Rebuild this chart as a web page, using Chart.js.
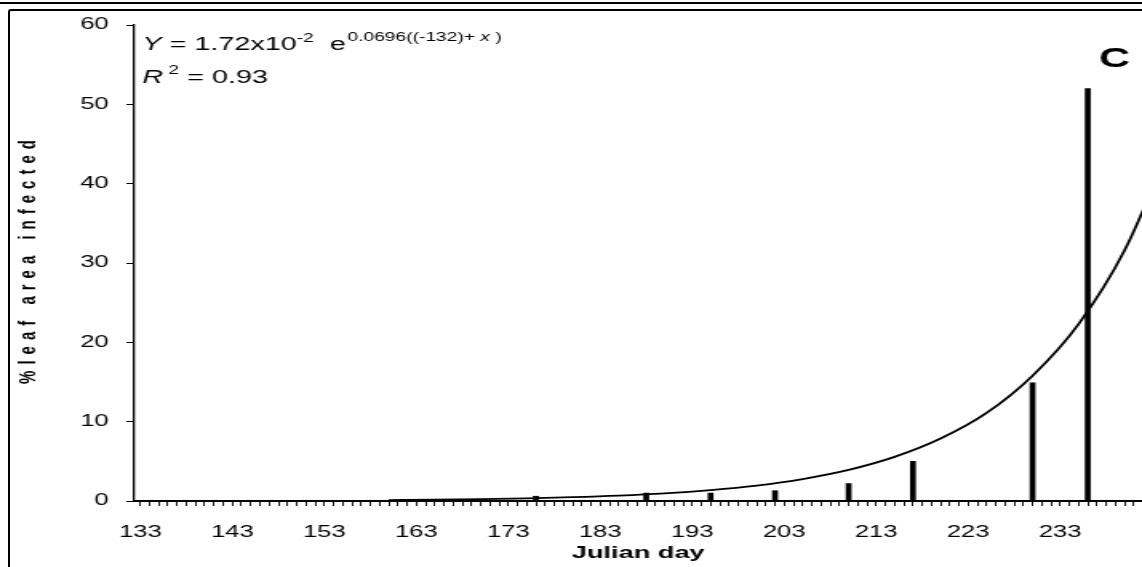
<!DOCTYPE html>
<html>
<head>
<meta charset="utf-8">
<title>% leaf area infected vs Julian day</title>
<script src="https://cdn.jsdelivr.net/npm/chart.js@4.4.1/dist/chart.umd.min.js"></script>
<style>
  html, body { margin: 0; padding: 0; background: #fff; overflow: hidden; }
  #wrap { position: absolute; left: 0; top: 0; width: 1142px; height: 567px; overflow: hidden; }
  .rule { position: absolute; left: 0; top: 2px; width: 1142px; height: 2px; background: #000; }
  .frame { position: absolute; left: 8px; top: 9px; width: 1200px; height: 600px;
           border-left: 2px solid #000; border-top: 2px solid #000; border-top-left-radius: 3px; }
  /* the scanned figure is stretched sideways, so the canvas is drawn narrow and widened by css */
  canvas { position: absolute; left: 0; top: 0; }
</style>
</head>
<body>
<div id="wrap">
  <div class="rule"></div>
  <div class="frame"></div>
  <canvas id="chart" width="714" height="567" style="width:1142px;height:567px"></canvas>
</div>
<script>
// values (panel C)
const X_LABELS = [133, 143, 153, 163, 173, 183, 193, 203, 213, 223, 233]
const Y_LABELS = [0, 10, 20, 30, 40, 50, 60]

// observed % leaf area infected, by Julian day
const OBS_DAYS = [176, 188, 195, 202, 210, 217, 230, 236]
const OBS_PCT = [0.6, 1.0, 1.0, 1.3, 2.2, 5.0, 14.9, 52.0]

// fitted exponential curve
const FIT_DAYS = [160, 165, 170, 175, 180, 185, 190, 195, 200, 205, 210, 215, 220, 225, 230, 235, 240, 245]
const FIT_PCT = [0.12, 0.17, 0.24, 0.34, 0.49, 0.69, 0.97, 1.38, 1.95, 2.77, 3.92, 5.56, 7.87, 11.1, 15.8, 22.3, 31.6, 44.8]

const FONT = "'Liberation Sans', Arial, Helvetica, sans-serif"

// y title, equation, R² and panel letter
const notes = {
  id: 'notes',
  afterDraw(c) {
    const ctx = c.ctx
    const area = c.chartArea
    ctx.save()
    ctx.fillStyle = '#000'

    // vertical axis title, widely spaced like the original
    ctx.save()
    ctx.translate(18, (area.top + area.bottom) / 2 - 4)
    ctx.rotate(-Math.PI / 2)
    ctx.font = 'bold 15px ' + FONT
    ctx.letterSpacing = '6px'
    ctx.textAlign = 'center'
    ctx.textBaseline = 'middle'
    ctx.fillText('%leaf area infected', 0, 0)
    ctx.restore()

    ctx.textAlign = 'left'
    ctx.textBaseline = 'alphabetic'
    function piece(text, x, y, font) {
      ctx.font = font
      ctx.fillText(text, x, y)
      return x + ctx.measureText(text).width
    }
    const big = '18px ' + FONT, bigI = 'italic 18px ' + FONT
    const sm = '12px ' + FONT, smI = 'italic 12px ' + FONT
    let x = area.left + 5
    x = piece('Y', x, 50, bigI)
    x = piece(' = 1.72x10', x, 50, big)
    x = piece('-2', x, 42, sm)
    x = piece('  e', x, 50, big)
    x = piece('0.0696((-132)+ ', x + 1, 41, sm)
    x = piece('x', x, 41, smI)
    piece(' )', x, 41, sm)

    x = area.left + 5
    x = piece('R', x, 83, bigI)
    x = piece(' 2', x, 74, sm)
    piece(' = 0.93', x, 83, big)

    piece('C', 687, 67, 'bold 27px ' + FONT)
    ctx.restore()
  }
}

const ctx = document.getElementById('chart').getContext('2d')
new Chart(ctx, {
  type: 'bar',
  data: {
    datasets: [
      {
        type: 'line',
        label: 'Fit',
        data: FIT_DAYS.map((d, i) => ({ x: d, y: FIT_PCT[i] })),
        borderColor: '#000',
        borderWidth: 1.8,
        pointRadius: 0,
        fill: false,
        cubicInterpolationMode: 'monotone'
      },
      {
        type: 'bar',
        label: 'Observed',
        data: OBS_DAYS.map((d, i) => ({ x: d, y: OBS_PCT[i] })),
        backgroundColor: '#000',
        borderWidth: 0,
        barThickness: 3
      }
    ]
  },
  options: {
    responsive: false,
    animation: false,
    layout: { padding: { top: 25, left: 0, right: 0, bottom: 0 } },
    plugins: { legend: { display: false }, tooltip: { enabled: false } },
    scales: {
      x: {
        type: 'linear',
        min: 132.35,
        max: 241.9,
        offset: false,
        grid: { offset: false, drawOnChartArea: false, drawTicks: true, tickLength: 5, color: '#000', lineWidth: 0.9 },
        border: { color: '#000', width: 2 },
        afterBuildTicks(scale) {
          const t = []
          for (let d = X_LABELS[0]; d <= Math.floor(scale.max); d++) t.push({ value: d })
          scale.ticks = t
        },
        afterFit(scale) {
          scale.height = 66
          scale.paddingLeft = 0
          scale.paddingRight = 0
        },
        ticks: {
          autoSkip: false,
          maxRotation: 0,
          color: '#000',
          padding: 17,
          font: { family: FONT, size: 16 },
          callback: (v) => X_LABELS.includes(v) ? String(v) : ''
        },
        title: {
          display: true,
          text: 'Julian day',
          color: '#000',
          font: { family: FONT, size: 17, weight: 'bold' },
          padding: { top: 0, bottom: 3 }
        }
      },
      y: {
        min: 0,
        max: 60,
        grid: { drawOnChartArea: false, drawTicks: true, tickLength: 5, color: '#000', lineWidth: 1 },
        border: { color: '#000', width: 1.3 },
        afterBuildTicks(scale) { scale.ticks = Y_LABELS.map((v) => ({ value: v })) },
        afterFit(scale) { scale.width = 84 },
        ticks: {
          color: '#000',
          padding: 11,
          font: { family: FONT, size: 16 }
        },
        title: { display: false }
      }
    }
  },
  plugins: [notes]
})
</script>
</body>
</html>
